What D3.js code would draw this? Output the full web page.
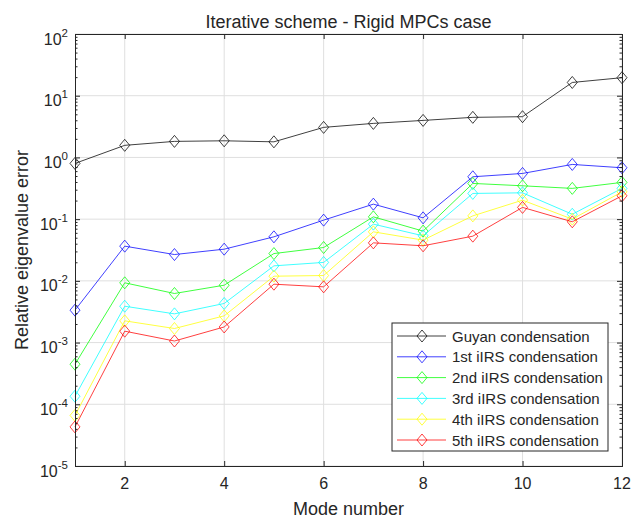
<!DOCTYPE html>
<html>
<head>
<meta charset="utf-8">
<script src="https://cdn.jsdelivr.net/npm/d3@7"></script>
<style>
  body { margin: 0; background: #fff; }
  text { font-family: "Liberation Sans", Arial, sans-serif; fill: #262626; }
</style>
</head>
<body>
<div id="chart"></div>
<script>
// data
const modes = [1, 2, 3, 4, 5, 6, 7, 8, 9, 10, 11, 12]
const guyan = [0.80, 1.57, 1.82, 1.86, 1.79, 3.07, 3.56, 3.98, 4.46, 4.57, 16.4, 19.6]
const irs1 = [0.00335, 0.0365, 0.0267, 0.0326, 0.0517, 0.0964, 0.175, 0.105, 0.486, 0.55, 0.77, 0.68]
const irs2 = [0.000446, 0.0093, 0.00624, 0.0085, 0.0277, 0.0347, 0.109, 0.064, 0.379, 0.347, 0.315, 0.394]
const irs3 = [0.000135, 0.00388, 0.00292, 0.0043, 0.0175, 0.0199, 0.083, 0.0537, 0.261, 0.267, 0.12, 0.315]
const irs4 = [0.000066, 0.00225, 0.00169, 0.00271, 0.0119, 0.0122, 0.0623, 0.0457, 0.113, 0.203, 0.10, 0.277]
const irs5 = [0.000043, 0.00153, 0.00106, 0.00179, 0.00883, 0.0080, 0.0413, 0.037, 0.053, 0.155, 0.0906, 0.239]
const seriesNames = ['Guyan condensation', '1st iIRS condensation', '2nd iIRS condensation',
  '3rd iIRS condensation', '4th iIRS condensation', '5th iIRS condensation']
const seriesColors = ['#000000', '#0000ff', '#00ff00', '#00ffff', '#ffff00', '#ff0000']
const xTicks = [2, 4, 6, 8, 10, 12]
const yExps = [-5, -4, -3, -2, -1, 0, 1, 2]

const series = [guyan, irs1, irs2, irs3, irs4, irs5].map((v, i) => ({
  name: seriesNames[i], color: seriesColors[i], values: v
}))

const W = 643, H = 518
const m = { left: 75, right: 21, top: 34, bottom: 52 }

const svg = d3.select('#chart').append('svg')
  .attr('width', W).attr('height', H)

const x = d3.scaleLinear().domain([1, 12]).range([m.left, W - m.right])
const y = d3.scaleLog().domain([1e-5, 1e2]).range([H - m.bottom, m.top])

const plot = svg.append('g')

// grid
plot.append('g').selectAll('line.gx').data(xTicks).join('line')
  .attr('x1', d => x(d)).attr('x2', d => x(d))
  .attr('y1', m.top).attr('y2', H - m.bottom)
  .attr('stroke', '#dfdfdf').attr('stroke-width', 1)
plot.append('g').selectAll('line.gy').data(yExps).join('line')
  .attr('x1', m.left).attr('x2', W - m.right)
  .attr('y1', d => y(Math.pow(10, d))).attr('y2', d => y(Math.pow(10, d)))
  .attr('stroke', '#dfdfdf').attr('stroke-width', 1)

// lines + markers
const line = d3.line().x((d, i) => x(modes[i])).y(d => y(d))
const diamond = (cx, cy) => `M${cx},${cy - 6}L${cx + 5},${cy}L${cx},${cy + 6}L${cx - 5},${cy}Z`

series.forEach(s => {
  const g = plot.append('g')
  g.append('path').datum(s.values)
    .attr('d', line).attr('fill', 'none')
    .attr('stroke', s.color).attr('stroke-width', 1).attr('stroke-opacity', 0.75)
  g.selectAll('path.mk').data(s.values).join('path')
    .attr('class', 'mk')
    .attr('d', (d, i) => diamond(x(modes[i]), y(d)))
    .attr('fill', 'none').attr('stroke', s.color).attr('stroke-width', 1).attr('stroke-opacity', 0.75)
})

// axes (MATLAB style, ticks inward, box)
const axisColor = '#262626'
const xAxisB = d3.axisBottom(x).tickValues(xTicks).tickSize(-5).tickFormat('')
const xAxisT = d3.axisTop(x).tickValues(xTicks).tickSize(-5).tickFormat('')
svg.append('g').attr('transform', `translate(0,${H - m.bottom})`).call(xAxisB)
svg.append('g').attr('transform', `translate(0,${m.top})`).call(xAxisT)

const minors = []
yExps.slice(0, -1).forEach(e => { for (let k = 2; k <= 9; k++) minors.push(k * Math.pow(10, e)) })
const yMajor = yExps.map(e => Math.pow(10, e))
svg.append('g').attr('transform', `translate(${m.left},0)`)
  .call(d3.axisLeft(y).tickValues(yMajor).tickSize(-5).tickFormat(''))
svg.append('g').attr('transform', `translate(${m.left},0)`)
  .call(d3.axisLeft(y).tickValues(minors).tickSize(-2.5).tickFormat(''))
svg.append('g').attr('transform', `translate(${W - m.right},0)`)
  .call(d3.axisRight(y).tickValues(yMajor).tickSize(-5).tickFormat(''))
svg.append('g').attr('transform', `translate(${W - m.right},0)`)
  .call(d3.axisRight(y).tickValues(minors).tickSize(-2.5).tickFormat(''))
svg.selectAll('.domain').attr('stroke', axisColor)
svg.selectAll('.tick line').attr('stroke', axisColor)

// tick labels
svg.append('g').selectAll('text').data(xTicks).join('text')
  .attr('x', d => x(d)).attr('y', 489)
  .attr('text-anchor', 'middle').attr('font-size', 16).text(d => d)
const yl = svg.append('g').selectAll('text').data(yExps).join('text')
  .attr('x', m.left - 7).attr('y', d => y(Math.pow(10, d)) + 10.5)
  .attr('text-anchor', 'end').attr('font-size', 16)
yl.append('tspan').text('10')
yl.append('tspan').attr('dy', -8).attr('font-size', 11.5).text(d => d)

// titles
svg.append('text').attr('x', (m.left + W - m.right) / 2).attr('y', 28)
  .attr('text-anchor', 'middle').attr('font-size', 18).text('Iterative scheme - Rigid MPCs case')
svg.append('text').attr('x', (m.left + W - m.right) / 2).attr('y', 515)
  .attr('text-anchor', 'middle').attr('font-size', 18).text('Mode number')
svg.append('text')
  .attr('transform', `translate(28,${(m.top + H - m.bottom) / 2}) rotate(-90)`)
  .attr('text-anchor', 'middle').attr('font-size', 18).text('Relative eigenvalue error')

// legend
const lg = svg.append('g').attr('transform', 'translate(392,323)')
lg.append('rect').attr('width', 216).attr('height', 128)
  .attr('fill', '#fff').attr('stroke', axisColor).attr('stroke-width', 1)
series.forEach((s, i) => {
  const ry = 13 + i * 20.8
  lg.append('line').attr('x1', 5).attr('x2', 54).attr('y1', ry).attr('y2', ry)
    .attr('stroke', s.color).attr('stroke-opacity', 0.75)
  lg.append('path').attr('d', diamond(30, ry)).attr('fill', 'none')
    .attr('stroke', s.color).attr('stroke-opacity', 0.75)
  lg.append('text').attr('x', 60).attr('y', ry + 5.5).attr('font-size', 15).text(s.name)
})
</script>
</body>
</html>
